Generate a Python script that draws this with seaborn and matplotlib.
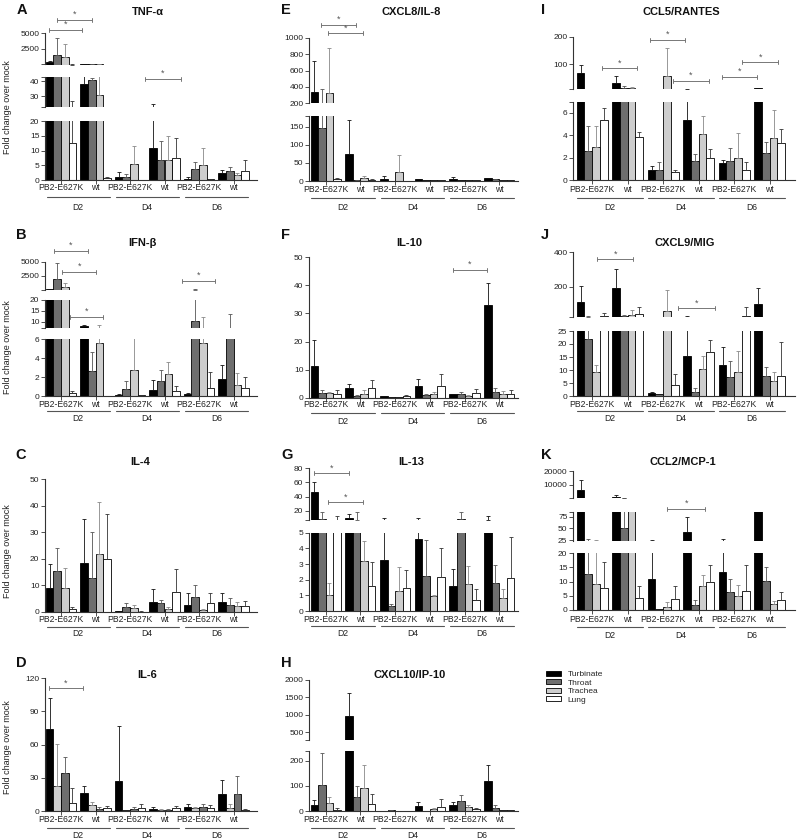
import numpy as np
import pandas as pd
import matplotlib
matplotlib.use('Agg')
import matplotlib.pyplot as plt
import matplotlib.transforms as mtransforms
from matplotlib.patches import Patch
import seaborn as sns

sns.set_theme(style='ticks')
plt.rcParams['font.family'] = ['Liberation Sans', 'DejaVu Sans']

# ---------------- data ----------------
tissues = ['Turbinate', 'Throat', 'Trachea', 'Lung']
groups = ['D2 PB2-E627K', 'D2 wt', 'D4 PB2-E627K', 'D4 wt', 'D6 PB2-E627K', 'D6 wt']
tick_labels = ['PB2-E627K', 'wt', 'PB2-E627K', 'wt', 'PB2-E627K', 'wt']
day_labels = ['D2', 'D4', 'D6']

# rows: Turbinate, Throat, Trachea, Lung ; columns: groups
tnfa_vals = [[450, 38, 1.2, 10.8, 0.6, 2.3], [1600, 41, 1.0, 7.0, 3.8, 3.2],
             [1230, 31, 5.5, 7.0, 5.2, 1.7], [12.6, 0.7, 0, 7.5, 0.3, 3.0]]
tnfa_errs = [[150, 10, 1.7, 13.6, 0.6, 1.3], [2600, 1, 1.1, 6.3, 2.4, 1.4],
             [2000, 14, 6.0, 8.0, 5.6, 0.6], [14.4, 0.3, 0, 6.7, 0.2, 3.9]]

ifnb_vals = [[50, 7.8, 0.15, 0.65, 0.2, 1.8], [1860, 2.65, 0.75, 1.55, 10.3, 6.5],
             [530, 5.65, 2.8, 2.3, 5.65, 1.2], [0.35, 0, 0.1, 0.55, 0.85, 0.85]]
ifnb_errs = [[0, 0.6, 0.1, 1.0, 0.15, 1.45], [2840, 2.0, 0.8, 1.25, 22, 7],
             [610, 2.8, 3.7, 1.35, 6.6, 1.2], [0.15, 0, 0.05, 0.55, 1.65, 1.2]]

il4_vals = [[9, 18.5, 0.2, 3.7, 2.8, 3.6], [15.3, 12.8, 2.0, 3.5, 5.8, 2.6],
            [9.1, 22, 1.4, 1.0, 0.8, 2.2], [1.0, 20, 0.1, 7.6, 3.3, 2.3]]
il4_errs = [[9, 16.5, 0.2, 4.8, 4.2, 3.4], [8.7, 17.5, 1.4, 1.1, 4.4, 2.6],
            [7.4, 19.5, 1.2, 0.8, 0.5, 1.4], [1.0, 17, 0.1, 8.6, 3.7, 1.9]]

il6_vals = [[74, 16, 27, 2, 4, 15.5], [34.5, 2, 1.5, 0.5, 3.5, 15.5],
            [22.5, 5.5, 0.5, 1, 2.5, 2.5], [7.5, 2.5, 2.5, 2.5, 2.5, 1]]
il6_errs = [[28, 7, 50, 2, 2.5, 12.5], [14.5, 2, 2, 1, 2.5, 16],
            [38.5, 2.5, 0, 0.5, 1, 4], [13, 2, 4, 2, 2.5, 0.5]]

cxcl8_vals = [[340, 75, 5, 5, 6, 7], [147, 3, 1, 2, 3, 5],
              [325, 7, 26, 2, 2, 2], [5, 4, 1, 2, 2, 1.5]]
cxcl8_errs = [[380, 92, 9, 1, 5, 2], [223, 1, 0, 0, 0, 1],
              [545, 7, 47, 0, 0, 0], [2, 1, 0, 0, 0, 0]]

il10_vals = [[11.3, 3.5, 0.5, 4, 1.2, 33], [1.7, 0.7, 0.2, 0.9, 1.3, 2],
             [1.6, 1.2, 0.3, 1.2, 0.6, 1.3], [1.2, 3.5, 0.6, 4.2, 1.6, 1.3]]
il10_errs = [[9.2, 1.3, 0.2, 2.8, 0.2, 8], [1.0, 0.4, 0, 0.4, 0.7, 1.6],
             [0.6, 1.4, 0, 0.9, 0.3, 1.0], [1.4, 2.7, 0.2, 4.2, 1.5, 1.5]]

il13_vals = [[47, 10, 3.25, 4.6, 1.6, 7.5], [8, 7, 0.35, 2.25, 8, 1.8],
             [1.0, 3.2, 1.25, 0.95, 1.7, 0.85], [6, 1.6, 1.45, 2.2, 0.7, 2.1]]
il13_errs = [[13, 6, 5.75, 5.3, 1.1, 5], [10, 11, 0.1, 2.3, 10, 1.15],
             [0.8, 1.3, 1.55, 0.1, 1.15, 0.55], [6.5, 1.55, 1.2, 1.85, 0.7, 2.65]]

cxcl10_vals = [[25, 980, 0.5, 20, 23, 118], [103, 55, 2, 1, 38, 12],
               [30, 92, 1, 8, 14, 5], [5, 28, 0.5, 15, 6, 4]]
cxcl10_errs = [[17, 650, 0, 15, 12, 64], [129, 43, 1, 0, 26, 10],
               [25, 93, 0, 2, 10, 0], [5, 39, 0, 32, 4, 0]]

ccl5_vals = [[69, 34, 0.9, 5.4, 1.55, 14], [2.6, 15, 0.9, 1.7, 1.7, 2.4],
             [2.95, 13, 57, 4.1, 1.95, 3.75], [5.4, 3.9, 0.75, 2.0, 0.95, 3.3]]
ccl5_errs = [[27, 25, 0.4, 4.5, 0.25, 1], [2.2, 8, 0.7, 0.65, 1.15, 1.0],
             [1.9, 5, 103, 1.6, 2.25, 2.5], [1.0, 0.4, 0.2, 0.75, 0.65, 1.3]]

cxcl9_vals = [[113, 190, 1.3, 15.5, 11.8, 100], [21.8, 30, 0.9, 1.7, 7.2, 7.8],
              [9.3, 38, 58, 10.4, 9.2, 5.7], [30, 40, 4.4, 17, 30, 7.8]]
cxcl9_errs = [[92, 115, 0.2, 12, 7, 95], [5, 3, 0, 1.4, 6.2, 3.4],
              [2.7, 25, 122, 4.9, 8.2, 3.6], [15, 43, 4, 4.4, 50, 13]]

ccl2_vals = [[6130, 1000, 11, 42, 13.4, 150], [12.8, 50, 0.5, 1.9, 6.5, 10.4],
             [9.2, 120, 1.0, 8.4, 4.8, 2.0], [7.8, 4.3, 4, 10, 6.8, 3.7]]
ccl2_errs = [[7000, 1500, 15, 33, 13, 0], [13.5, 60, 0, 1.5, 4.6, 4.9],
             [16.8, 0, 1.9, 3.9, 4.0, 1.3], [9.2, 4.3, 4.5, 5.8, 9, 2.6]]

# ---------------- style ----------------
colors = {'Turbinate': '#000000', 'Throat': '#6e6e6e', 'Trachea': '#cdcdcd', 'Lung': '#ffffff'}
err_colors = {'Turbinate': '#111111', 'Throat': '#555555', 'Trachea': '#888888', 'Lung': '#333333'}

W, H = 800, 839
fig = plt.figure(figsize=(W / 100, H / 100), dpi=100)


def rect(x0, y0, x1, y1):
    return [x0 / W, 1 - y1 / H, (x1 - x0) / W, (y1 - y0) / H]


def yf(p):
    return 1 - p / H


columns = {1: dict(x0=45, x1=257, c0=61.0, pitch=34.5),
           2: dict(x0=309, x1=518, c0=325.7, pitch=34.7),
           3: dict(x0=573, x1=795, c0=592.2, pitch=35.5)}

specs = [
    dict(letter='A', title='TNF-α', col=1, vals=tnfa_vals, errs=tnfa_errs, hue=tissues,
         segs=[(33, 64.5, 25, 5000, [25, 2500, 5000], ['', '2500', '5000']),
               (77, 107, 22.67, 42.67, [22.67, 30, 40, 42.67], ['', '30', '40', '']),
               (121, 180.3, 0, 20, [0, 5, 10, 15, 20], None)],
         br=[(-0.35, 0.61, 30), (-0.12, 0.90, 20), (2.43, 3.48, 79)],
         lxy=(22, 10), txy=(148, 12), yl=107, xl=(188, 197, 207)),
    dict(letter='B', title='IFN-β', col=1, vals=ifnb_vals, errs=ifnb_errs, hue=tissues,
         segs=[(261.7, 289.5, 30, 5000, [30, 2500, 5000], ['', '2500', '5000']),
               (300, 328, 7, 20, [7, 10, 15, 20], ['', '10', '15', '20']),
               (339.3, 396, 0, 6, [0, 2, 4, 6], None)],
         br=[(-0.19, 0.77, 251), (0.04, 1.01, 271.7), (0.26, 1.23, 316.7), (3.5, 4.46, 281)],
         lxy=(21, 235), txy=(142, 243), yl=347, xl=(404, 411, 418)),
    dict(letter='C', title='IL-4', col=1, vals=il4_vals, errs=il4_errs, hue=tissues,
         segs=[(479.3, 612, 0, 50, [0, 10, 20, 30, 40, 50], None)],
         br=[], lxy=(21, 455), txy=(140, 462), yl=551, xl=(620, 626.7, 634)),
    dict(letter='D', title='IL-6', col=1, vals=il6_vals, errs=il6_errs,
         hue=['Turbinate', 'Trachea', 'Throat', 'Lung'],
         segs=[(678.3, 811, 0, 120, [0, 30, 60, 90, 120], None)],
         br=[(-0.34, 0.63, 688.3)], lxy=(21, 663), txy=(147, 675), yl=747, xl=(820, 828.3, 835)),
    dict(letter='E', title='CXCL8/IL-8', col=2, vals=cxcl8_vals, errs=cxcl8_errs, hue=tissues,
         segs=[(37.7, 103.3, 200, 1000, [200, 400, 600, 800, 1000], None),
               (115.7, 181, 0, 180, [0, 50, 100, 150, 180], ['0', '50', '100', '150', ''])],
         br=[(-0.14, 0.87, 25), (0.07, 1.08, 33.3)],
         lxy=(286, 10), txy=(411, 12), yl=None, xl=(189, 197.5, 207)),
    dict(letter='F', title='IL-10', col=2, vals=il10_vals, errs=il10_errs, hue=tissues,
         segs=[(257.3, 397.7, 0, 50, [0, 10, 20, 30, 40, 50], None)],
         br=[(3.66, 4.66, 270)], lxy=(286, 235), txy=(409, 243), yl=None, xl=(405, 413, 421.7)),
    dict(letter='G', title='IL-13', col=2, vals=il13_vals, errs=il13_errs, hue=tissues,
         segs=[(468.3, 520, 6.8, 80, [6.8, 20, 40, 60, 80], ['', '20', '40', '60', '80']),
               (532.7, 611, 0, 5, [0, 1, 2, 3, 4, 5], None)],
         br=[(-0.33, 0.68, 473.3), (0.07, 1.08, 502.3)],
         lxy=(287, 455), txy=(411, 462), yl=None, xl=(620, 626, 634)),
    dict(letter='H', title='CXCL10/IP-10', col=2, vals=cxcl10_vals, errs=cxcl10_errs, hue=tissues,
         segs=[(680, 739.6, 290, 2000, [290, 500, 1000, 1500, 2000], ['', '500', '1000', '1500', '2000']),
               (750.7, 811, 0, 240, [0, 100, 200, 240], ['0', '100', '200', ''])],
         br=[], lxy=(286, 663), txy=(410, 675), yl=None, xl=(820, 828, 835)),
    dict(letter='I', title='CCL5/RANTES', col=3, vals=ccl5_vals, errs=ccl5_errs, hue=tissues,
         segs=[(36.7, 89.3, 9.4, 200, [9.4, 100, 200], ['', '100', '200']),
               (101.7, 180.3, 0, 7, [0, 2, 4, 6, 7], ['0', '2', '4', '6', ''])],
         br=[(0.27, 1.25, 68.3), (1.63, 2.61, 40), (2.28, 3.29, 81), (3.65, 4.65, 76.7), (4.23, 5.24, 62.3)],
         lxy=(543, 10), txy=(681, 12), yl=None, xl=(189, 197.5, 207)),
    dict(letter='J', title='CXCL9/MIG', col=3, vals=cxcl9_vals, errs=cxcl9_errs, hue=tissues,
         segs=[(252.3, 317.3, 22, 400, [22, 200, 400], ['', '200', '400']),
               (331, 396, 0, 25, [0, 5, 10, 15, 20, 25], None)],
         br=[(0.13, 1.16, 259.3), (2.43, 3.46, 308.3)],
         lxy=(545, 235), txy=(685, 243), yl=None, xl=(404, 411, 418)),
    dict(letter='K', title='CCL2/MCP-1', col=3, vals=ccl2_vals, errs=ccl2_errs, hue=tissues,
         segs=[(471, 498.3, 90, 20000, [90, 10000, 20000], ['', '10000', '20000']),
               (511.7, 540.5, 24, 86, [25, 50, 75, 86], ['25', '50', '75', '']),
               (553.3, 610, 0, 20, [0, 5, 10, 15, 20], None)],
         br=[(2.12, 3.18, 509)], lxy=(546, 455), txy=(683, 462), yl=None, xl=(619, 627.3, 635)),
]

TXT = '#222222'
SP = '#333333'
FS_TICK = 6.0
FS_X = 6.2


def make_df(vals):
    rows = []
    for i, t in enumerate(tissues):
        for j, g in enumerate(groups):
            rows.append({'group': g, 'tissue': t, 'value': vals[i][j]})
    return pd.DataFrame(rows)


for spec in specs:
    col = columns[spec['col']]
    xlim = ((col['x0'] - col['c0']) / col['pitch'], (col['x1'] - col['c0']) / col['pitch'])
    df = make_df(spec['vals'])
    nseg = len(spec['segs'])
    ax_bottom = None
    for si, (ytop, ybot, lo, hi, ticks, labels) in enumerate(spec['segs']):
        upper = si < nseg - 1
        ax = fig.add_axes(rect(col['x0'], ytop, col['x1'], ybot))
        ax.set_facecolor('none')
        sns.barplot(data=df, x='group', y='value', hue='tissue', order=groups,
                    hue_order=spec['hue'], palette=colors, edgecolor='black',
                    linewidth=0.6, width=0.87, gap=0, errorbar=None, legend=False, ax=ax)
        for k, t in enumerate(spec['hue']):
            i = tissues.index(t)
            bars = ax.containers[k]
            xs = np.array([b.get_x() + b.get_width() / 2 for b in bars])
            v = np.array(spec['vals'][i], float)
            e = np.array(spec['errs'][i], float)
            if upper:
                for b, val in zip(bars, v):
                    if val < lo:
                        b.set_visible(False)
            m = (e > 0) & ((v + e) > lo if upper else True)
            if m.any():
                ax.errorbar(xs[m], v[m], yerr=[np.zeros(m.sum()), e[m]], fmt='none',
                            ecolor=err_colors[t], elinewidth=0.6, capsize=1.6, capthick=0.6)
        ax.set_xlim(*xlim)
        ax.set_ylim(lo, hi)
        ax.set_xlabel('')
        ax.set_ylabel('')
        ax.set_yticks(ticks)
        ax.set_yticklabels(labels if labels is not None else [f'{t:g}' for t in ticks])
        ax.tick_params(axis='y', length=3, width=0.6, labelsize=FS_TICK, pad=1,
                       color=SP, labelcolor=TXT)
        for s in ['top', 'right']:
            ax.spines[s].set_visible(False)
        ax.spines['left'].set_color(SP)
        ax.spines['left'].set_linewidth(0.8)
        if upper:
            ax.spines['bottom'].set_visible(False)
            ax.tick_params(axis='x', bottom=False, labelbottom=False)
        else:
            ax.spines['bottom'].set_color(SP)
            ax.spines['bottom'].set_linewidth(0.8)
            ax.set_xticks(range(len(groups)))
            ax.set_xticklabels([])
            ax.tick_params(axis='x', length=3, width=0.6, color=SP)
            ax_bottom = ax

    trans = mtransforms.blended_transform_factory(ax_bottom.transData, fig.transFigure)
    ly, uy, dy = spec['xl']
    for j, lab in enumerate(tick_labels):
        ax_bottom.text(j, yf(ly), lab, transform=trans, ha='center', va='center',
                       fontsize=FS_X, color=TXT, clip_on=False)
    for k, d in enumerate(day_labels):
        c = 2 * k + 0.5
        ax_bottom.plot([c - 0.92, c + 0.92], [yf(uy), yf(uy)], transform=trans,
                       color='#555555', lw=0.8, clip_on=False)
        ax_bottom.text(c, yf(dy), d, transform=trans, ha='center', va='center',
                       fontsize=FS_X, color=TXT, clip_on=False)
    for (x1, x2, yp) in spec['br']:
        ax_bottom.plot([x1, x2], [yf(yp), yf(yp)], transform=trans, color='#777777',
                       lw=0.7, clip_on=False)
        for xe in (x1, x2):
            ax_bottom.plot([xe, xe], [yf(yp - 2), yf(yp + 2)], transform=trans,
                           color='#777777', lw=0.7, clip_on=False)
        ax_bottom.text((x1 + x2) / 2, yf(yp - 1), '*', transform=trans, ha='center',
                       va='bottom', fontsize=6.5, color='#555555', clip_on=False)

    fig.text(spec['lxy'][0] / W, yf(spec['lxy'][1]), spec['letter'], ha='center',
             va='center', fontsize=10.5, fontweight='bold', color='#111111')
    fig.text(spec['txy'][0] / W, yf(spec['txy'][1]), spec['title'], ha='center',
             va='center', fontsize=8, fontweight='bold', color='#111111')
    if spec['yl'] is not None:
        fig.text(8 / W, yf(spec['yl']), 'Fold change over mock', rotation=90,
                 ha='center', va='center', fontsize=6.5, color=TXT)

handles = [Patch(facecolor=colors[t], edgecolor='black', linewidth=0.6, label=t) for t in tissues]
fig.legend(handles=handles, loc='upper left', bbox_to_anchor=(546 / W, yf(671)),
           frameon=False, fontsize=6, handlelength=1.8, handleheight=0.55,
           labelspacing=0.12, handletextpad=0.8, borderaxespad=0, borderpad=0)

fig.savefig('out.png', dpi=100)
